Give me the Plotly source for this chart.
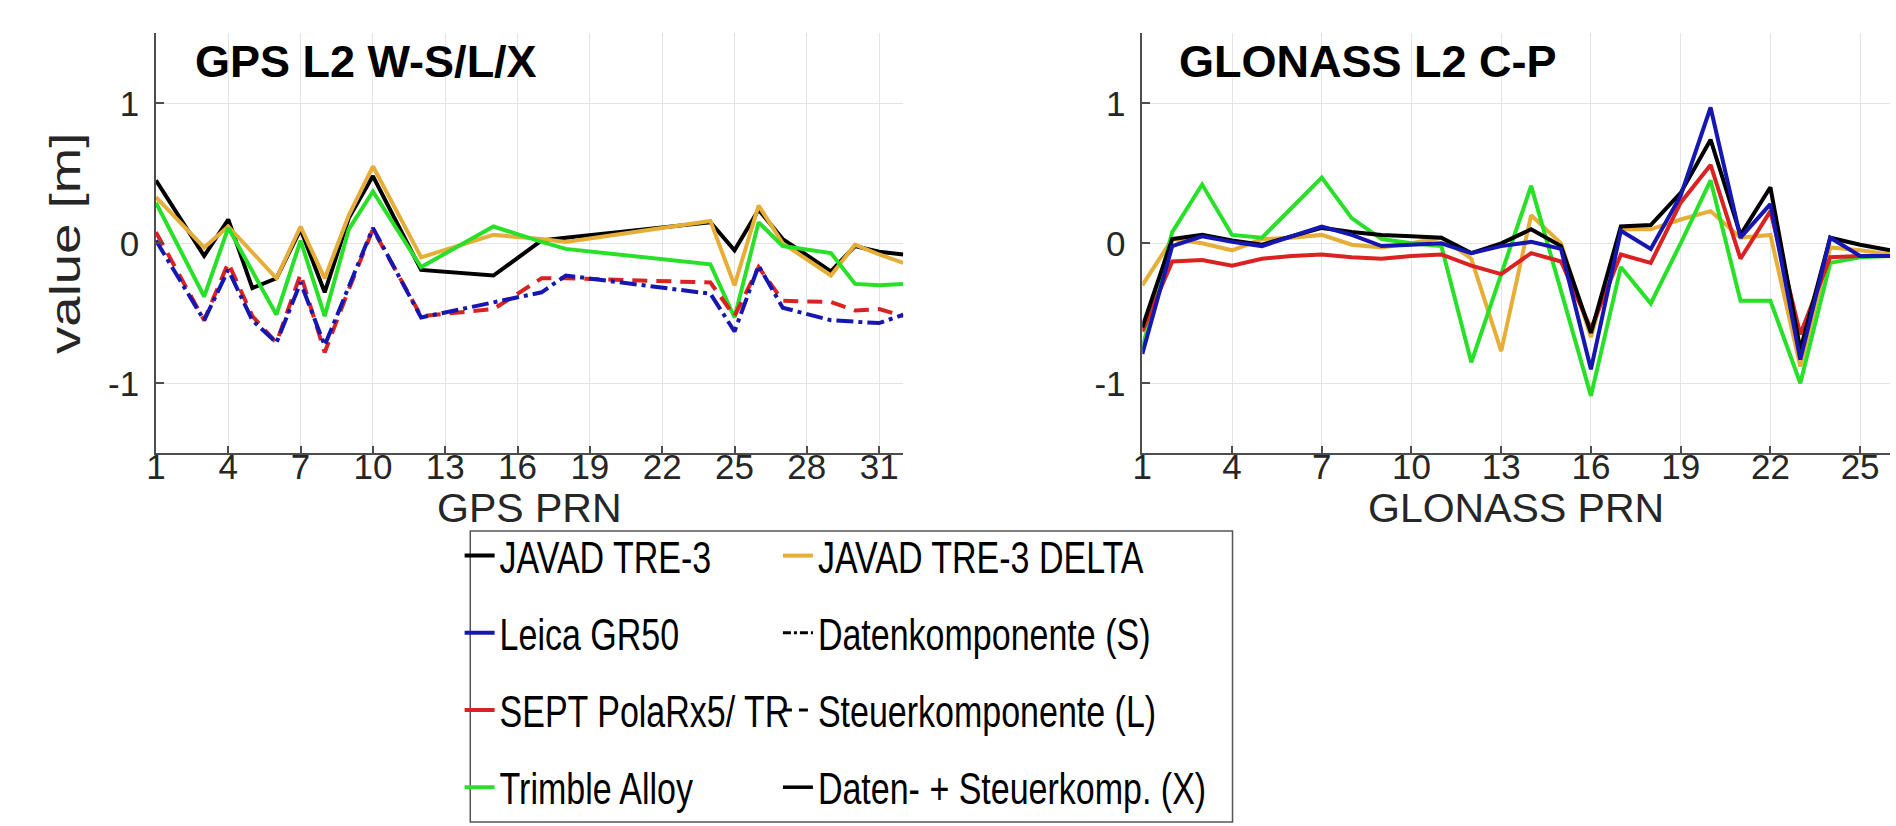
import plotly.graph_objects as go

# ---------------- data ----------------
gps_prn = [1, 3, 4, 5, 6, 7, 8, 9, 10, 12, 15, 17, 18, 24, 25, 26, 27, 29, 30, 31, 32]
gps_javad = [0.45, -0.09, 0.17, -0.32, -0.25, 0.10, -0.35, 0.18, 0.48, -0.19, -0.23, 0.02, 0.04, 0.15, -0.05, 0.24, 0.03, -0.20, -0.02, -0.06, -0.08]
gps_delta = [0.33, -0.03, 0.12, -0.06, -0.25, 0.12, -0.25, 0.20, 0.55, -0.10, 0.06, 0.03, 0.01, 0.16, -0.30, 0.27, 0.00, -0.23, -0.01, -0.08, -0.14]
gps_trimble = [0.29, -0.38, 0.11, -0.20, -0.51, 0.02, -0.52, 0.10, 0.37, -0.17, 0.12, 0.01, -0.04, -0.15, -0.53, 0.15, -0.02, -0.07, -0.29, -0.30, -0.29]
gps_sept_L = [0.08, -0.55, -0.14, -0.52, -0.71, -0.22, -0.78, -0.33, 0.10, -0.52, -0.47, -0.25, -0.25, -0.28, -0.52, -0.17, -0.41, -0.42, -0.48, -0.47, -0.52]
gps_leica_S = [0.02, -0.55, -0.19, -0.55, -0.71, -0.28, -0.73, -0.31, 0.11, -0.53, -0.42, -0.35, -0.23, -0.36, -0.63, -0.16, -0.46, -0.55, -0.56, -0.57, -0.51]

glo_prn = [1, 2, 3, 4, 5, 6, 7, 8, 9, 10, 11, 12, 13, 14, 15, 16, 17, 18, 19, 20, 21, 22, 23, 24, 25, 26]
glo_javad = [-0.60, 0.03, 0.06, 0.02, -0.01, 0.05, 0.11, 0.08, 0.06, 0.05, 0.04, -0.07, 0.00, 0.10, -0.02, -0.64, 0.12, 0.13, 0.36, 0.74, 0.06, 0.40, -0.76, 0.04, -0.01, -0.05]
glo_delta = [-0.30, 0.03, 0.00, -0.05, 0.03, 0.04, 0.06, -0.01, -0.03, 0.00, 0.04, -0.11, -0.77, 0.20, 0.00, -0.67, 0.10, 0.10, 0.17, 0.23, 0.04, 0.06, -0.88, -0.03, -0.05, -0.08]
glo_leica = [-0.79, -0.02, 0.05, 0.01, -0.02, 0.05, 0.12, 0.06, -0.02, -0.01, 0.00, -0.07, -0.02, 0.01, -0.04, -0.90, 0.09, -0.04, 0.34, 0.97, 0.04, 0.28, -0.83, 0.04, -0.09, -0.09]
glo_sept = [-0.63, -0.13, -0.12, -0.16, -0.11, -0.09, -0.08, -0.10, -0.11, -0.09, -0.08, -0.16, -0.22, -0.07, -0.13, -0.61, -0.08, -0.14, 0.29, 0.56, -0.11, 0.23, -0.65, -0.10, -0.09, -0.09]
glo_trimble = [-0.75, 0.08, 0.42, 0.06, 0.04, 0.25, 0.47, 0.18, 0.03, 0.00, -0.02, -0.85, -0.22, 0.41, -0.34, -1.09, -0.17, -0.43, 0.00, 0.45, -0.41, -0.41, -1.00, -0.14, -0.10, -0.09]

gps_ticks = [1, 4, 7, 10, 13, 16, 19, 22, 25, 28, 31]
glo_ticks = [1, 4, 7, 10, 13, 16, 19, 22, 25]
y_ticks = [-1, 0, 1]
y_ticktext = ["-1", "0", "1"]

# ---------------- styles ----------------
BLACK = "#000000"
ORANGE = "#E6AE38"
BLUE = "#1616B0"
RED = "#DA2222"
GREEN = "#28E028"
LW = 4
FONT = "Liberation Sans, Arial, Helvetica, sans-serif"

fig = go.Figure()

# GPS panel
fig.add_trace(go.Scatter(x=gps_prn, y=gps_javad, mode="lines", line=dict(color=BLACK, width=LW),
                         showlegend=False, xaxis="x", yaxis="y"))
fig.add_trace(go.Scatter(x=gps_prn, y=gps_delta, mode="lines", line=dict(color=ORANGE, width=LW),
                         showlegend=False, xaxis="x", yaxis="y"))
fig.add_trace(go.Scatter(x=gps_prn, y=gps_trimble, mode="lines", line=dict(color=GREEN, width=LW),
                         showlegend=False, xaxis="x", yaxis="y"))
fig.add_trace(go.Scatter(x=gps_prn, y=gps_sept_L, mode="lines", line=dict(color=RED, width=LW, dash="15px,9px"),
                         showlegend=False, xaxis="x", yaxis="y"))
fig.add_trace(go.Scatter(x=gps_prn, y=gps_leica_S, mode="lines", line=dict(color=BLUE, width=LW, dash="17px,5px,4px,5px"),
                         showlegend=False, xaxis="x", yaxis="y"))

# GLONASS panel (these also serve as receiver legend entries)
fig.add_trace(go.Scatter(x=glo_prn, y=glo_delta, mode="lines", line=dict(color=ORANGE, width=LW),
                         name="JAVAD TRE-3 DELTA", legend="legend2", legendgroup="g5", legendrank=1,
                         xaxis="x2", yaxis="y2"))
fig.add_trace(go.Scatter(x=glo_prn, y=glo_trimble, mode="lines", line=dict(color=GREEN, width=LW),
                         name="Trimble Alloy", legend="legend", legendgroup="g4", legendrank=4,
                         xaxis="x2", yaxis="y2"))
fig.add_trace(go.Scatter(x=glo_prn, y=glo_sept, mode="lines", line=dict(color=RED, width=LW),
                         name="SEPT PolaRx5/ TR", legend="legend", legendgroup="g3", legendrank=3,
                         xaxis="x2", yaxis="y2"))
fig.add_trace(go.Scatter(x=glo_prn, y=glo_javad, mode="lines", line=dict(color=BLACK, width=LW),
                         name="JAVAD TRE-3", legend="legend", legendgroup="g1", legendrank=1,
                         xaxis="x2", yaxis="y2"))
fig.add_trace(go.Scatter(x=glo_prn, y=glo_leica, mode="lines", line=dict(color=BLUE, width=LW),
                         name="Leica GR50", legend="legend", legendgroup="g2", legendrank=2,
                         xaxis="x2", yaxis="y2"))

# line-style legend entries (no data)
fig.add_trace(go.Scatter(x=[None], y=[None], mode="lines", line=dict(color=BLACK, width=3, dash="8px,3px,3px,3px"),
                         name="Datenkomponente (S)", legend="legend2", legendgroup="g6", legendrank=2,
                         xaxis="x2", yaxis="y2"))
fig.add_trace(go.Scatter(x=[None], y=[None], mode="lines", line=dict(color=BLACK, width=3, dash="9px,7px"),
                         name="Steuerkomponente (L)", legend="legend2", legendgroup="g7", legendrank=3,
                         xaxis="x2", yaxis="y2"))
fig.add_trace(go.Scatter(x=[None], y=[None], mode="lines", line=dict(color=BLACK, width=3.5),
                         name="Daten- + Steuerkomp. (X)", legend="legend2", legendgroup="g8", legendrank=4,
                         xaxis="x2", yaxis="y2"))

W, H = 1896, 826
ydom = [(H - 453.3) / H, (H - 33.3) / H]

axis_common = dict(showline=True, linecolor="#4d4d4d", linewidth=1.5, mirror=False,
                   ticks="inside", ticklen=8, tickwidth=1.5, tickcolor="#4d4d4d",
                   showgrid=True, gridcolor="#e4e4e4", gridwidth=1.2, zeroline=False,
                   tickfont=dict(family=FONT, size=35, color="#262626"))

leg_common = dict(xanchor="left", yanchor="top", orientation="v",
                  font=dict(family=FONT, size=34, color="black"), bgcolor="rgba(0,0,0,0)",
                  borderwidth=0, tracegroupgap=30, itemwidth=30, traceorder="grouped")

fig.update_layout(
    width=W, height=H, margin=dict(l=0, r=0, t=0, b=0),
    paper_bgcolor="white", plot_bgcolor="white",
    font=dict(family=FONT, color="#262626"),
    xaxis=dict(domain=[146.7 / W, 898.0 / W], range=[1, 32], tickvals=gps_ticks, anchor="y",
               ticklabelstandoff=-18, **axis_common),
    yaxis=dict(domain=ydom, range=[-1.5, 1.5], tickvals=y_ticks, ticktext=y_ticktext, anchor="x",
               ticklabelstandoff=8,
               title=dict(text="value [m]", font=dict(family=FONT, size=42, color="#262626"), standoff=14),
               **axis_common),
    xaxis2=dict(domain=[1138.3 / W, 1890.0 / W], range=[1, 26], tickvals=glo_ticks, anchor="y2",
                ticklabelstandoff=-18, **axis_common),
    yaxis2=dict(domain=ydom, range=[-1.5, 1.5], tickvals=y_ticks, ticktext=y_ticktext, anchor="x2",
                ticklabelstandoff=8, **axis_common),
    legend=dict(x=452 / W, y=(H - 527) / H, **leg_common),
    legend2=dict(x=772 / W, y=(H - 527) / H, **leg_common),
    shapes=[dict(type="rect", xref="paper", yref="paper",
                 x0=462.7 / W, x1=1229 / W, y0=(H - 822) / H, y1=(H - 531) / H,
                 line=dict(color="#555555", width=1.5), fillcolor="rgba(0,0,0,0)", layer="above")],
    annotations=[
        dict(text="<b>GPS L2 W-S/L/X</b>", xref="x domain", yref="y domain", x=0.050, y=0.934,
             xanchor="left", yanchor="middle", showarrow=False,
             font=dict(family=FONT, size=45, color="black")),
        dict(text="<b>GLONASS L2 C-P</b>", xref="x2 domain", yref="y2 domain", x=0.046, y=0.934,
             xanchor="left", yanchor="middle", showarrow=False,
             font=dict(family=FONT, size=45, color="black")),
        dict(text="GPS PRN", xref="x domain", yref="paper", x=0.5, y=(H - 508) / H,
             xanchor="center", yanchor="middle", showarrow=False,
             font=dict(family=FONT, size=41, color="#262626")),
        dict(text="GLONASS PRN", xref="x2 domain", yref="paper", x=0.5, y=(H - 508) / H,
             xanchor="center", yanchor="middle", showarrow=False,
             font=dict(family=FONT, size=41, color="#262626")),
    ],
)

post = """
document.body.style.margin='0';
function stretchOne(t, s, alongText){
  var x = parseFloat(t.getAttribute('x')) || 0;
  var y = parseFloat(t.getAttribute('y')) || 0;
  var key = s + ':' + x + ':' + y;
  if (t.getAttribute('data-st') === key) { return; }
  var base = t.getAttribute('data-basetr');
  if (base === null) { base = t.getAttribute('transform') || ''; t.setAttribute('data-basetr', base); }
  var fs = parseFloat(t.style.fontSize) || 20;
  var extra;
  if (alongText) {
    extra = ' translate(' + x + ',' + y + ') scale(' + s + ',1) translate(' + (-x) + ',' + (-y) + ')';
  } else {
    var cy = y - 0.36 * fs;
    extra = ' translate(0,' + cy + ') scale(1,' + s + ') translate(0,' + (-cy) + ')';
  }
  t.setAttribute('data-st', key);
  t.setAttribute('transform', base + extra);
}
function applyAll(){
  document.querySelectorAll('text.legendtext, text.legend2text').forEach(function(t){ stretchOne(t, 1.3, false); });
  document.querySelectorAll('text.ytitle').forEach(function(t){ stretchOne(t, 1.3, true); });
}
applyAll();
var obs = new MutationObserver(function(){ obs.disconnect(); applyAll(); start(); });
function start(){ obs.observe(document.body, {childList: true, subtree: true}); }
start();
requestAnimationFrame(applyAll);
setTimeout(applyAll, 0);
setTimeout(applyAll, 50);
setTimeout(applyAll, 300);
"""

fig.write_html("out.html", post_script=post, config={"displayModeBar": False})
